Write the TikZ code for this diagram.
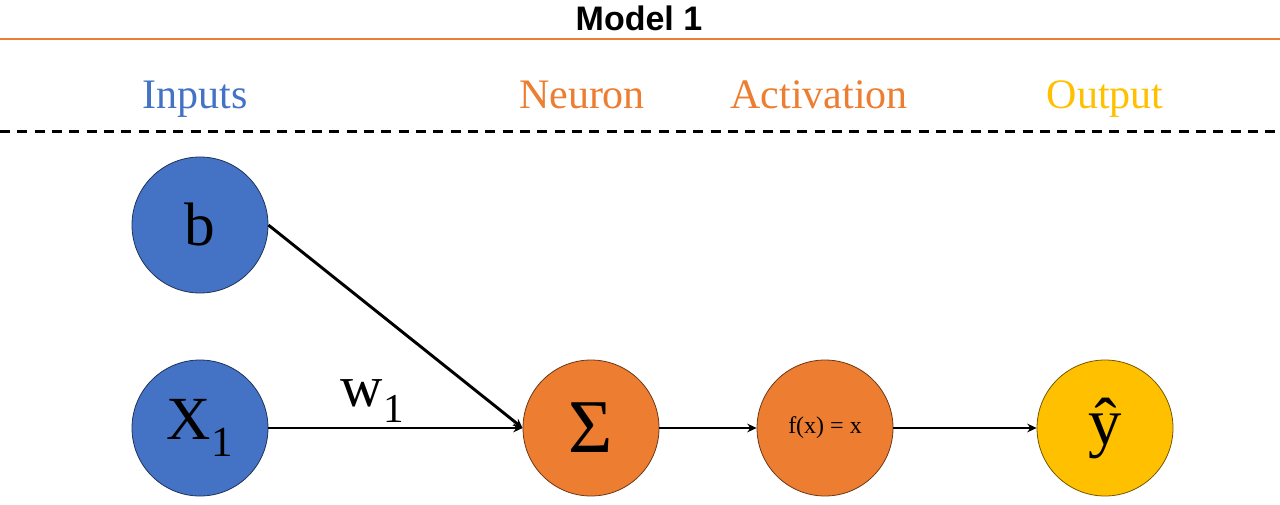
\documentclass[tikz,border=0pt]{standalone}
\usepackage{fontspec}
\setmainfont{Liberation Serif}
\newfontfamily\titlefont{Liberation Sans}
\usetikzlibrary{
  arrows.meta,
  positioning,
}
\definecolor{inblue}{HTML}{4472C4}
\definecolor{neuorange}{HTML}{ED7D31}
\definecolor{outgold}{HTML}{FFC000}
\tikzset{
  >={Stealth[length=7pt,width=6.5pt]},
  unit/.style={circle, draw, line width=0.6pt, minimum size=102pt, inner sep=0pt,
    font=\fontsize{46}{46}\selectfont},
  heading/.style={anchor=base, font=\fontsize{31.5}{32}\selectfont},
}

\begin{document}
\begin{tikzpicture}[
      x=0.75pt, y=-0.75pt,
      every path/.style={line width=2.2pt},
    ]
      \useasboundingbox (0,0) rectangle (1280,504);
      % header
      \node [anchor=base, font=\titlefont\bfseries\fontsize{25.5}{26}\selectfont] (title) at (639,30) {Model 1};
      \draw [neuorange, line width=1.5pt] (0,39) -- (1280,39);
      \node [heading, text=inblue] (inputs) at (195,108) {Inputs};
      \node [heading, text=neuorange] (neuron) at (582,108) {Neuron};
      \node [heading, text=neuorange] (activation) at (819,108) {Activation};
      \node [heading, text=outgold] (output) at (1105,108) {Output};
      \draw [line width=2.25pt, dash pattern=on 7.5pt off 5.5pt] (0,131) -- (1280,131);
      % network
      \node [unit, fill=inblue, draw=inblue!45!black] (bias) at (200,225) {b};
      \node [unit, fill=inblue, draw=inblue!45!black] (x1) at (200,428) {X\textsubscript{1}};
      \node [unit, fill=neuorange, draw=neuorange!45!black, font=\fontsize{57}{57}\selectfont] (sum) at (591,428) {Σ};
      \node [unit, fill=neuorange, draw=neuorange!45!black, font=\fontsize{18}{18}\selectfont] (act) at (825,428) {f(x) = x};
      \node [unit, fill=outgold, draw=outgold!45!black, font=\fontsize{50}{50}\selectfont] (yhat) at (1105,428) {ŷ};
      \draw [->] (bias.east) -- (sum.west);
      \draw [->] (x1) -- node [pos=0.41, above=0pt, font=\fontsize{44}{44}\selectfont] (weight) {w\textsubscript{1}} (sum);
      \draw [->] (sum) -- (act);
      \draw [->] (act) -- (yhat);
    \end{tikzpicture}
\end{document}
